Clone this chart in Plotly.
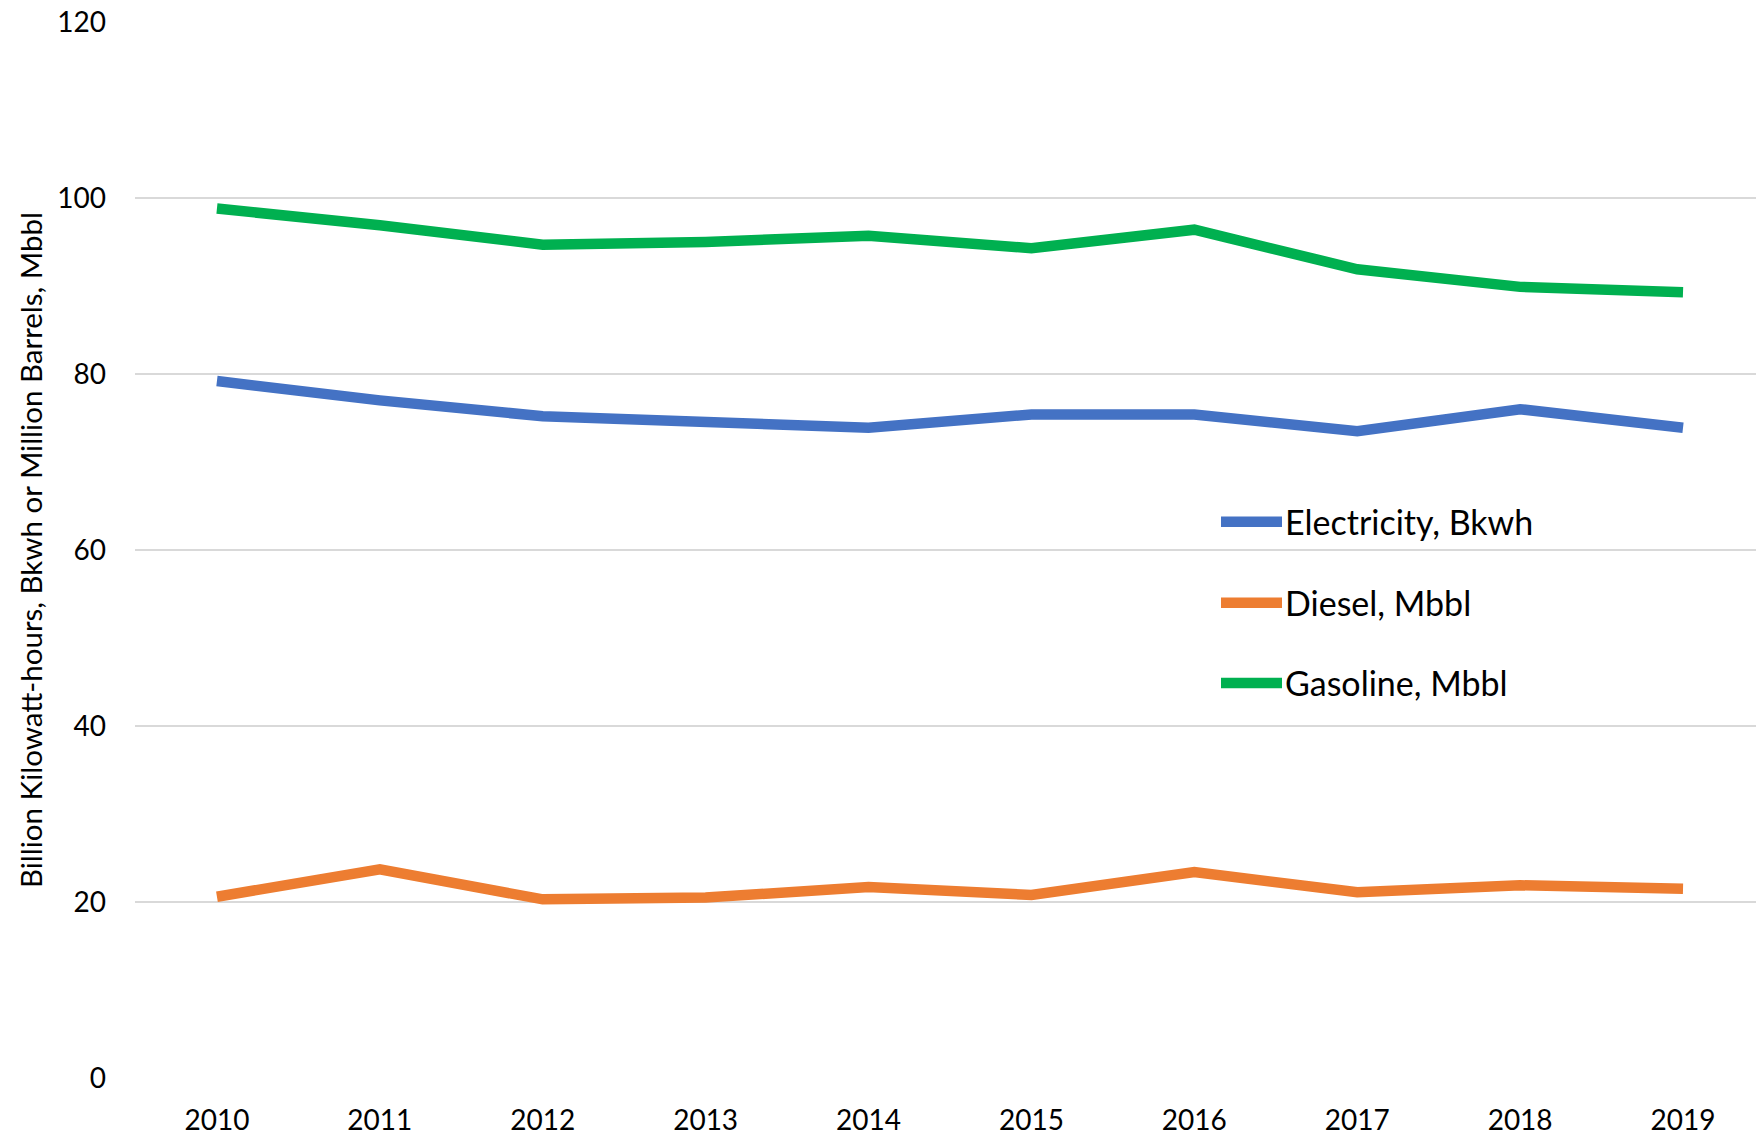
import plotly.graph_objects as go

years = ["2010", "2011", "2012", "2013", "2014", "2015", "2016", "2017", "2018", "2019"]
electricity = [79.2, 77.0, 75.2, 74.6, 73.9, 75.4, 75.4, 73.5, 76.0, 73.9]
diesel = [20.6, 23.7, 20.3, 20.5, 21.7, 20.8, 23.4, 21.1, 21.9, 21.5]
gasoline = [98.8, 96.9, 94.7, 95.0, 95.7, 94.3, 96.4, 91.9, 89.9, 89.3]
y_ticks = [0, 20, 40, 60, 80, 100, 120]

series = [
    ("Electricity, Bkwh", electricity, "#4472C4"),
    ("Diesel, Mbbl", diesel, "#ED7D31"),
    ("Gasoline, Mbbl", gasoline, "#00B050"),
]

FONT = "Lato"
W, H = 1756, 1136
L, R, T, B = 135, 0, 22, 58

fig = go.Figure()
for name, vals, color in series:
    fig.add_trace(go.Scatter(
        x=list(range(len(years))), y=vals, name=name, mode="lines",
        line=dict(color=color, width=10.5), showlegend=False,
    ))

# Hand-placed legend in the plot area (line sample + label)
legend_y = [63.2, 54.0, 44.9]
for (name, _, color), ly in zip(series, legend_y):
    fig.add_shape(type="line", xref="paper", yref="y",
                  x0=(1221 - L) / (W - L - R), x1=(1282 - L) / (W - L - R),
                  y0=ly, y1=ly, line=dict(color=color, width=10.5))
    fig.add_annotation(xref="paper", yref="y", x=(1283 - L) / (W - L - R), y=ly,
                       text=name, showarrow=False, xanchor="left", yanchor="middle",
                       font=dict(family=FONT, size=34, color="#000000"))

# Vertical axis title
fig.add_annotation(xref="paper", yref="paper", x=(30 - L) / (W - L - R), y=0.5,
                   text="Billion Kilowatt-hours, Bkwh or Million Barrels, Mbbl",
                   textangle=-90, showarrow=False, xanchor="center", yanchor="middle",
                   font=dict(family=FONT, size=29.5, color="#000000"))

fig.update_layout(
    width=W, height=H,
    margin=dict(l=L, r=R, t=T, b=B),
    plot_bgcolor="white", paper_bgcolor="white",
    font=dict(family=FONT, size=28, color="#000000"),
    xaxis=dict(
        tickmode="array", tickvals=list(range(len(years))), ticktext=years,
        range=[-0.503, 9.448], showgrid=False, zeroline=False, showline=False,
        ticks="", ticklabelstandoff=23,
        tickfont=dict(family=FONT, size=28, color="#000000"),
    ),
    yaxis=dict(
        range=[0, 120], tickvals=y_ticks, showgrid=True, gridcolor="#D9D9D9",
        gridwidth=2, zeroline=False, showline=False, ticks="",
        ticklabelstandoff=28,
        tickfont=dict(family=FONT, size=28, color="#000000"),
    ),
)

fig.write_html("out.html")
